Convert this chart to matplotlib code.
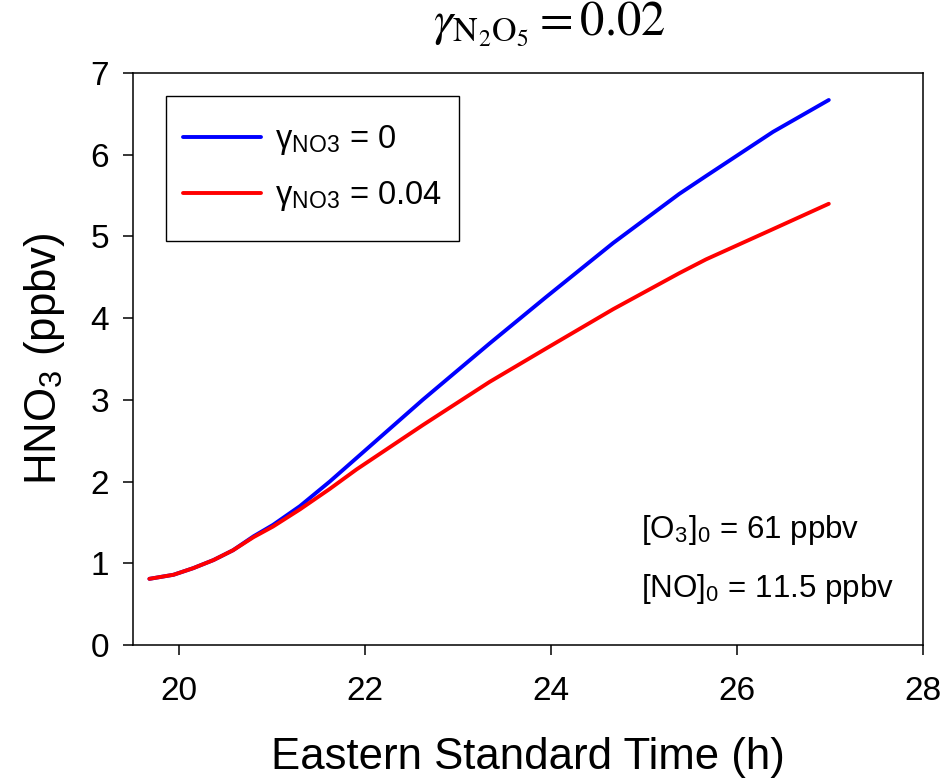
import numpy as np
import matplotlib
matplotlib.use("Agg")
import matplotlib.pyplot as plt
from matplotlib.patches import Rectangle

plt.rcParams['font.family'] = ['Liberation Sans', 'DejaVu Sans']
plt.rcParams['mathtext.fontset'] = 'stix'

# 時刻 (EST, h)
time_h = [19.68, 19.94, 20.15, 20.37, 20.58, 20.80, 21.01, 21.30, 21.62,
          21.91, 22.62, 23.34, 23.95, 24.67, 25.38, 25.67, 26.39, 26.99]
# HNO3 (ppbv)
hno3_g0 = [0.81, 0.86, 0.94, 1.04, 1.16, 1.33, 1.47, 1.70, 2.00,
           2.29, 3.00, 3.69, 4.26, 4.92, 5.52, 5.74, 6.28, 6.67]
hno3_g004 = [0.81, 0.86, 0.94, 1.04, 1.16, 1.32, 1.45, 1.66, 1.91,
             2.15, 2.69, 3.22, 3.63, 4.11, 4.55, 4.72, 5.09, 5.40]
labels = [r'γ$_{\mathregular{NO3}}$ = 0', r'γ$_{\mathregular{NO3}}$ = 0.04']
colors = ['#0000ff', '#ff0000']

x_ticks = [20, 22, 24, 26, 28]
y_ticks = [0, 1, 2, 3, 4, 5, 6, 7]

fig = plt.figure(figsize=(9.51, 7.81), dpi=100)
ax = fig.add_axes([0.1395, 0.1741, 0.8307, 0.7324])

for y, lab, c in zip([hno3_g0, hno3_g004], labels, colors):
    ax.plot(time_h, y, color=c, lw=2.8, label=lab,
            solid_capstyle='round', solid_joinstyle='round')

ax.set_xlim(19.5, 28)
ax.set_ylim(0, 7)
ax.set_xticks(x_ticks)
ax.set_yticks(y_ticks)
ax.tick_params(axis='both', direction='out', length=7, width=1.1, labelsize=24)
ax.tick_params(axis='x', pad=15)
ax.tick_params(axis='y', pad=10)
for s in ax.spines.values():
    s.set_linewidth(1.1)

ax.set_xlabel('Eastern Standard Time (h)', fontsize=31.5, va='center')
ax.xaxis.set_label_coords(0.5, -0.196)
ax.set_ylabel(r'HNO$_{\mathregular{3}}$ (ppbv)', fontsize=31.5, va='center')
ax.yaxis.set_label_coords(-0.112, 0.5)

# 凡例の枠は別に描く
ax.add_patch(Rectangle((0.0418, 0.7063), 0.3713, 0.254, transform=ax.transAxes,
                       fill=False, edgecolor='black', lw=1.0, zorder=5))
leg = ax.legend(loc='upper left', bbox_to_anchor=(0.0418, 0.942), borderaxespad=0,
                fontsize=23.5, handlelength=2.4, handletextpad=0.43,
                labelspacing=0.67, borderpad=0.52, frameon=False)

ax.text(0.644, 0.187, r'[O$_{\mathregular{3}}$]$_{\mathregular{0}}$ = 61 ppbv',
        transform=ax.transAxes, fontsize=22.5, va='baseline')
ax.text(0.644, 0.0845, r'[NO]$_{\mathregular{0}}$ = 11.5 ppbv',
        transform=ax.transAxes, fontsize=22.5, va='baseline')

fig.text(549 / 951, 1 - 35 / 781, r'$\gamma_{\rm N_2O_5} = 0.02$',
         fontsize=35, ha='center', va='baseline')

fig.savefig('out.png', dpi=100)
